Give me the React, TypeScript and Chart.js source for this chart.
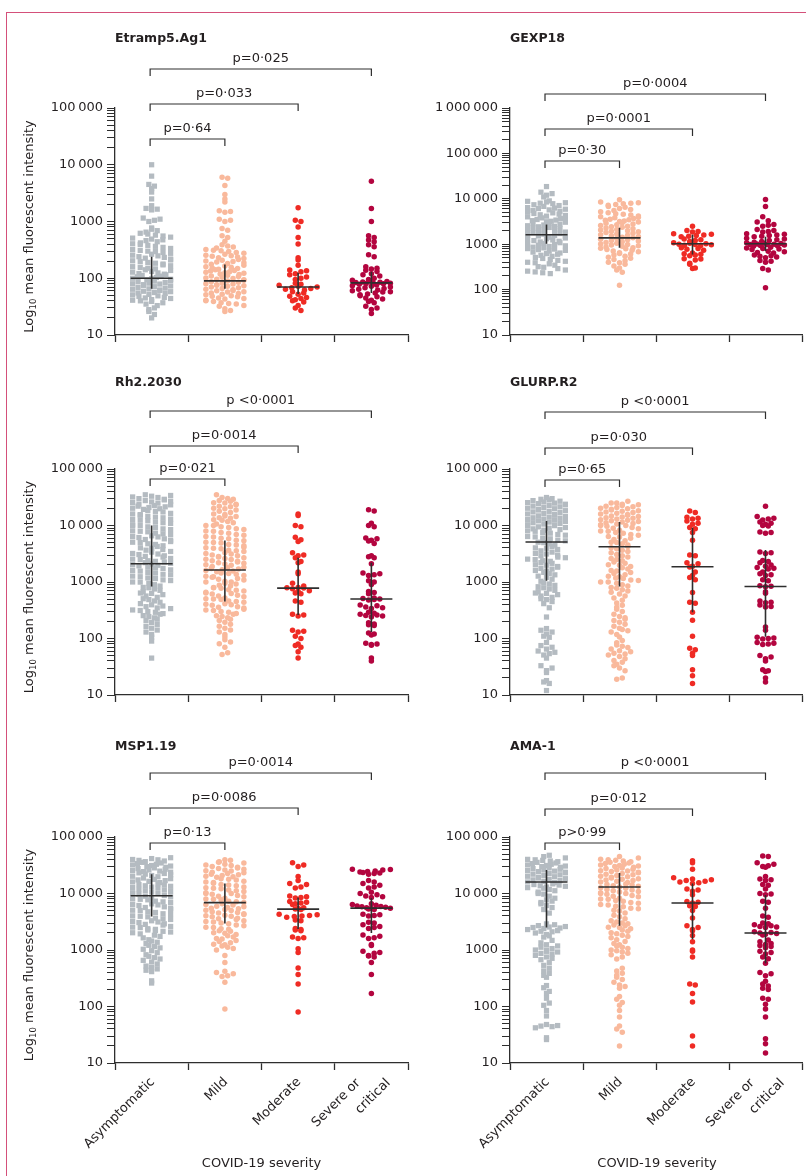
import React, { useEffect, useRef } from 'react';
import { Chart, registerables } from 'chart.js';

Chart.register(...registerables);

// ---------------- DATA ----------------
const CATEGORIES = ['Asymptomatic', 'Mild', 'Moderate', 'Severe or critical'];
const CATEGORY_LINES = [['Asymptomatic'], ['Mild'], ['Moderate'], ['Severe or', 'critical']];
const X_TITLE = 'COVID-19 severity';
const TITLES = ['Etramp5.Ag1', 'GEXP18', 'Rh2.2030', 'GLURP.R2', 'MSP1.19', 'AMA-1'];
const P_VALUES = [
  ['p=0·64', 'p=0·033', 'p=0·025'],
  ['p=0·30', 'p=0·0001', 'p=0·0004'],
  ['p=0·021', 'p=0·0014', 'p <0·0001'],
  ['p=0·65', 'p=0·030', 'p <0·0001'],
  ['p=0·13', 'p=0·0086', 'p=0·0014'],
  ['p>0·99', 'p=0·012', 'p <0·0001'],
];
const Y_MIN = 10;
const Y_MAX = [100000, 1000000, 100000, 100000, 100000, 100000];
const MEDIANS = [[100, 90, 70, 83], [1620, 1380, 1020, 1020], [2100, 1630, 780, 500], [5100, 4200, 1860, 830], [9100, 6900, 5300, 5500], [16000, 13000, 6800, 2000]];
const Q1S = [[65, 65, 53, 55], [1020, 830, 590, 710], [830, 450, 260, 130], [1050, 830, 290, 107], [3900, 2950, 2350, 2000], [2500, 2700, 1550, 580]];
const Q3S = [[240, 175, 125, 130], [2700, 2300, 1620, 1450], [10000, 5400, 2700, 2200], [12000, 11500, 9100, 3700], [22000, 15000, 8500, 8300], [26000, 23000, 15000, 9400]];

const ETRAMP_ASYM = [10000, 6300, 4500, 4200, 3800, 3300, 2500, 1900, 1700, 1650, 1600, 1150, 1100, 1050, 1000,
  650, 690, 730, 770, 510, 530, 555, 575, 600, 620, 405, 420, 440, 460, 475, 490,
  320, 335, 350, 365, 380, 395, 255, 265, 275, 285, 295, 300, 310, 203, 210, 218, 226, 233, 240, 248,
  160, 166, 172, 178, 184, 190, 196, 128, 132, 137, 141, 146, 150, 155, 100, 103, 106, 109, 112, 115, 118, 121, 124,
  80, 82, 84, 87, 89, 91, 94, 96, 98, 64, 65, 67, 69, 71, 73, 75, 77, 79, 51, 52, 54, 55, 56, 58, 59, 61, 62,
  40, 41, 42, 44, 45, 46, 48, 49, 33, 35, 37, 39, 26, 28, 30, 20, 23];
const ETRAMP_MILD = [6000, 5800, 4300, 3000, 2500, 2200, 1550, 1500, 1450, 1100, 1050, 1000, 750, 700, 560, 520, 450,
  320, 340, 355, 370, 390, 255, 265, 275, 285, 295, 305, 312, 202, 208, 215, 222, 229, 236, 243, 249,
  160, 165, 170, 176, 182, 187, 193, 198, 127, 130, 134, 137, 141, 144, 148, 152, 156,
  101, 104, 107, 110, 113, 116, 119, 122, 125, 80, 82, 85, 87, 89, 92, 94, 96, 99,
  64, 66, 68, 70, 72, 74, 75, 77, 79, 51, 52, 54, 55, 57, 58, 60, 61, 63,
  40, 41, 43, 44, 45, 47, 48, 49, 32, 33, 35, 36, 37, 39, 26, 27, 29];
const ETRAMP_MOD = [1750, 1050, 1000, 800, 520, 400, 230, 210, 170, 140, 135, 130, 120, 115, 105, 100, 95, 82, 78, 75, 72, 70, 68, 66, 64, 62, 58, 55, 52, 48, 46, 44, 42, 40, 38, 33, 30, 27];
const ETRAMP_SEV = [5100, 1700, 1000, 560, 520, 470, 440, 390, 360, 260, 240, 160, 150, 145, 138, 132, 120, 115, 110, 100, 95, 92, 90, 88, 86, 85, 84, 83, 82, 81, 80, 78, 76, 74, 72, 70, 68, 66, 64, 62, 60, 58, 57, 55, 53, 51, 49, 47, 45, 43, 41, 39, 37, 32, 30, 28, 24];

const GEXP_ASYM = [18600, 14000, 13000, 12000, 11000, 9000, 8800, 8500, 8200, 8000, 6400, 6800, 7100, 7400, 7800,
  5100, 5300, 5500, 5700, 5900, 6100, 6250, 4000, 4150, 4300, 4450, 4600, 4750, 4900,
  3200, 3300, 3400, 3500, 3650, 3800, 3900, 2550, 2650, 2750, 2850, 2950, 3050, 3120,
  2020, 2100, 2180, 2260, 2340, 2420, 2480, 1600, 1660, 1720, 1790, 1850, 1910, 1970,
  1270, 1320, 1370, 1420, 1470, 1520, 1560, 1000, 1040, 1080, 1120, 1160, 1200, 1240,
  800, 830, 860, 890, 920, 950, 980, 640, 670, 700, 730, 760, 780, 510, 540, 570, 600, 620,
  400, 420, 440, 460, 485, 320, 345, 370, 390, 255, 270, 290, 310, 225, 235, 245];
const GEXP_MILD = [9500, 8500, 8200, 8000, 7800, 7500, 7200, 6800, 6500, 5200, 5500, 5800, 6100,
  4000, 4200, 4400, 4550, 4700, 4900, 3250, 3350, 3450, 3550, 3700, 3820, 3940,
  2580, 2680, 2780, 2880, 2980, 3080, 3150, 2050, 2120, 2200, 2280, 2360, 2430, 2500,
  1620, 1680, 1740, 1800, 1870, 1930, 1990, 1280, 1330, 1380, 1430, 1480, 1530, 1575,
  1010, 1050, 1090, 1130, 1170, 1210, 1250, 810, 840, 870, 900, 930, 960, 990,
  650, 680, 710, 740, 765, 790, 515, 545, 575, 605, 625, 400, 430, 460, 490, 330, 360, 390, 270, 300, 240, 125];
const GEXP_MOD = [2500, 2000, 1900, 1850, 1700, 1650, 1600, 1550, 1500, 1450, 1300, 1250, 1200, 1150, 1080, 1050, 1020, 1000, 990, 970, 950, 920, 830, 800, 770, 740, 640, 620, 600, 580, 560, 480, 470, 450, 380, 360, 300, 290];
const GEXP_SEV = [9600, 6800, 4000, 3300, 3100, 2700, 2600, 2500, 2100, 2000, 1900, 1850, 1700, 1650, 1600, 1550, 1500, 1450, 1350, 1300, 1250, 1200, 1150, 1100, 1080, 1050, 1030, 1010, 1000, 990, 980, 960, 940, 920, 900, 860, 820, 800, 780, 760, 700, 680, 660, 640, 580, 560, 540, 520, 500, 440, 420, 400, 290, 270, 110];

const RH2_ASYM = [32000, 33000, 34000, 35000, 25400, 26100, 26900, 27600, 28400, 29100, 29900, 31300,
  20200, 20800, 21400, 22000, 22600, 23200, 23800, 24900, 16000, 16400, 17400, 17800, 18300, 19300, 19800,
  12700, 13000, 13700, 14100, 14400, 15200, 15600, 10000, 10300, 10900, 11200, 11500, 12100, 12400,
  8030, 8480, 8720, 9210, 9470, 9950, 6380, 6560, 6930, 7120, 7320, 7730, 7900,
  5060, 5200, 5500, 5650, 5810, 6130, 6280, 4020, 4260, 4380, 4620, 4750, 4980,
  3200, 3380, 3470, 3660, 3760, 3950, 2540, 2610, 2760, 2840, 2910, 3060, 3130,
  2020, 2080, 2140, 2200, 2260, 2320, 2380, 2490, 1600, 1640, 1740, 1780, 1830, 1930, 1980,
  1270, 1340, 1370, 1440, 1480, 1560, 1000, 1060, 1090, 1150, 1180, 1240,
  803, 848, 896, 947, 995, 638, 674, 712, 752, 790, 506, 535, 565, 597, 628, 414, 438, 462, 488,
  320, 338, 347, 366, 376, 395, 254, 269, 276, 291, 299, 313, 208, 220, 232, 244, 164, 178, 193,
  130, 141, 152, 106, 118, 90, 45];
const RH2_MILD = [35000, 25400, 26900, 27600, 29100, 29900, 31300, 20200, 21400, 22000, 23200, 23800, 24900,
  16000, 16900, 17800, 18800, 19800, 12700, 13400, 13700, 14400, 14800, 15600, 10000, 10600, 11200, 11800, 12400,
  8030, 8480, 8720, 9210, 9470, 9950, 6380, 6740, 6930, 7320, 7520, 7900, 5060, 5350, 5500, 5810, 5970, 6280,
  4020, 4140, 4380, 4500, 4620, 4880, 4980, 3200, 3290, 3470, 3560, 3660, 3860, 3950,
  2540, 2610, 2690, 2760, 2840, 2910, 2990, 3130, 2020, 2080, 2140, 2200, 2260, 2320, 2380, 2490,
  1600, 1640, 1690, 1740, 1780, 1830, 1880, 1980, 1270, 1300, 1370, 1410, 1440, 1520, 1560,
  1000, 1030, 1090, 1120, 1150, 1210, 1240, 803, 848, 872, 921, 947, 995, 638, 656, 693, 712, 732, 773, 790,
  506, 520, 550, 565, 581, 613, 628, 402, 414, 438, 450, 462, 488, 498, 320, 329, 347, 356, 366, 386, 395,
  254, 269, 276, 291, 299, 313, 208, 220, 232, 244, 164, 178, 193, 130, 141, 152, 106, 118, 81, 87, 95, 70, 52, 56];
const RH2_MOD = [16000, 15000, 10000, 9500, 6200, 5600, 5200, 3300, 3000, 2900, 2700, 2300, 2200, 1500, 1400, 950, 850, 800, 790, 780, 760, 700, 680, 640, 620, 460, 440, 270, 260, 250, 140, 135, 130, 110, 100, 80, 75, 70, 58, 45];
const RH2_SEV = [19000, 18000, 11000, 10000, 9500, 6000, 5800, 5500, 5300, 4800, 2900, 2800, 2700, 2100, 1450, 1400, 1350, 1300, 1050, 1000, 900, 680, 650, 620, 520, 510, 500, 490, 480, 390, 380, 360, 350, 340, 290, 280, 270, 260, 255, 250, 240, 190, 180, 175, 170, 125, 120, 115, 82, 80, 78, 76, 45, 40];

const GLURP_ASYM = [25400, 26100, 26900, 27600, 28400, 29100, 29900, 31300,
  20200, 20800, 21400, 22000, 22600, 23200, 23800, 24400, 24900, 16000, 16400, 16900, 17400, 17800, 18300, 18800, 19300, 19800,
  12700, 13000, 13400, 13700, 14100, 14400, 14800, 15200, 15600, 10000, 10300, 10600, 10900, 11200, 11500, 11800, 12100, 12400,
  8030, 8250, 8480, 8720, 8960, 9210, 9470, 9950, 6380, 6740, 6930, 7320, 7520, 7900, 5060, 5350, 5500, 5810, 5970, 6280,
  4020, 4260, 4500, 4750, 4980, 3200, 3380, 3560, 3760, 3950, 2540, 2690, 2760, 2910, 2990, 3130,
  2020, 2140, 2200, 2320, 2380, 2490, 1600, 1690, 1740, 1830, 1880, 1980, 1270, 1340, 1410, 1480, 1560,
  1030, 1120, 1210, 825, 872, 921, 973, 638, 674, 712, 752, 790, 506, 535, 565, 597, 628, 414, 450, 488,
  350, 240, 150, 140, 130, 120, 110, 105, 85, 75, 70, 65, 60, 57, 54, 51, 45, 33, 30, 27, 25, 18, 17, 16, 12];
const GLURP_MILD = [25000, 27000, 20200, 20800, 21400, 22000, 22600, 23200, 23800, 24900,
  16000, 16400, 16900, 17400, 17800, 18300, 18800, 19300, 19800, 12700, 13000, 13400, 13700, 14100, 14400, 14800, 15200, 15600,
  10000, 10300, 10600, 10900, 11200, 11500, 11800, 12100, 12400, 8030, 8250, 8720, 8960, 9210, 9730, 9950,
  6380, 6740, 6930, 7320, 7520, 7900, 5060, 5350, 5650, 5970, 6280, 4020, 4260, 4500, 4750, 4980,
  3290, 3470, 3660, 3860, 2610, 2760, 2910, 3060, 2020, 2140, 2260, 2380, 2490, 1600, 1690, 1780, 1880, 1980,
  1270, 1340, 1410, 1480, 1560, 1000, 1060, 1090, 1150, 1180, 1240, 803, 848, 896, 947, 995,
  656, 693, 732, 773, 520, 565, 613, 426, 474, 329, 356, 386, 269, 299, 208, 220, 232, 244, 164, 178, 193,
  130, 137, 144, 152, 106, 118, 84, 92, 65, 69, 73, 77, 51, 53, 55, 58, 61, 41, 44, 48, 33, 35, 38, 27, 30, 19, 20];
const GLURP_MOD = [18000, 17000, 14000, 13500, 13000, 12000, 11000, 10500, 9200, 8800, 7500, 5500, 3000, 2900, 2200, 2100, 1900, 1850, 1500, 1300, 1200, 1100, 650, 440, 420, 290, 210, 110, 67, 63, 55, 50, 28, 22, 16];
const GLURP_SEV = [22000, 14500, 13500, 13000, 12500, 11500, 11000, 10500, 10000, 9800, 7700, 7500, 7300, 3400, 3300, 3200, 2400, 2300, 2200, 2000, 1900, 1800, 1750, 1700, 1500, 1400, 1350, 1300, 1100, 1050, 860, 840, 820, 670, 630, 460, 440, 430, 390, 370, 360, 160, 140, 105, 102, 100, 98, 85, 82, 80, 78, 50, 47, 44, 40, 28, 27, 26, 20, 17];

const MSP_ASYM = [40000, 41500, 43000, 32000, 32900, 33800, 34700, 35600, 36600, 37600, 38600, 39500,
  25400, 26100, 26900, 27600, 28400, 29100, 29900, 30600, 31300, 20200, 20800, 21400, 22000, 22600, 23200, 23800, 24400, 24900,
  16000, 16400, 16900, 17400, 17800, 18300, 18800, 19800, 12700, 13000, 13400, 13700, 14100, 14400, 14800, 15600,
  10000, 10300, 10600, 10900, 11200, 11500, 11800, 12400, 8030, 8250, 8720, 8960, 9210, 9730, 9950,
  6380, 6560, 6930, 7120, 7320, 7730, 7900, 5060, 5200, 5500, 5650, 5810, 6130, 6280, 4020, 4260, 4380, 4620, 4750, 4980,
  3200, 3290, 3470, 3560, 3660, 3860, 3950, 2540, 2610, 2760, 2840, 2910, 3060, 3130, 2020, 2080, 2140, 2200, 2260, 2320, 2380, 2490,
  1640, 1740, 1830, 1930, 1300, 1370, 1440, 1520, 1030, 1090, 1150, 1210, 825, 896, 973, 656, 693, 732, 773,
  520, 565, 613, 414, 438, 462, 488, 260, 285];
const MSP_MILD = [32000, 32900, 34700, 35600, 36600, 38600, 39500, 25400, 26100, 26900, 27600, 28400, 29100, 29900, 31300,
  20200, 20800, 21400, 22000, 22600, 23200, 23800, 24900, 16000, 16400, 17400, 17800, 18300, 19300, 19800,
  12700, 13000, 13700, 14100, 14400, 15200, 15600, 10000, 10300, 10900, 11200, 11500, 12100, 12400,
  8030, 8250, 8720, 8960, 9210, 9730, 9950, 6380, 6560, 6930, 7120, 7320, 7730, 7900,
  5060, 5200, 5350, 5500, 5650, 5810, 5970, 6280, 4020, 4140, 4260, 4380, 4500, 4620, 4750, 4980,
  3200, 3290, 3470, 3560, 3660, 3860, 3950, 2540, 2690, 2760, 2910, 2990, 3130, 2020, 2140, 2200, 2320, 2380, 2490,
  1600, 1690, 1780, 1880, 1980, 1270, 1340, 1410, 1480, 1560, 1000, 1060, 1120, 1180, 1240,
  800, 600, 420, 400, 380, 350, 340, 270, 90];
const MSP_MOD = [35000, 32000, 30000, 20000, 17000, 15000, 14500, 13000, 12500, 9000, 8800, 8500, 8300, 7200, 7000, 6800, 6600, 6400, 5600, 5400, 5300, 5200, 4300, 4200, 4100, 4000, 3900, 3800, 3400, 3300, 2400, 2300, 2250, 2200, 1700, 1650, 1600, 1050, 900, 480, 370, 250, 80];
const MSP_SEV = [27000, 26500, 26000, 25000, 24500, 24000, 23500, 23000, 22500, 22000, 17000, 16000, 15000, 14000, 13000, 12500, 10500, 10000, 9500, 9000, 8800, 8500, 6600, 6400, 6200, 6000, 5900, 5800, 5700, 5600, 5500, 5400, 5300, 5200, 4300, 4200, 4100, 4000, 3100, 3000, 2800, 2600, 2500, 2400, 1850, 1750, 1650, 1600, 1250, 1200, 950, 900, 880, 800, 780, 750, 600, 370, 170];

const AMA_ASYM = [40200, 42600, 45000, 47500, 32000, 32900, 33800, 34700, 35600, 36600, 37600, 38600, 39500,
  25400, 26100, 26900, 27600, 28400, 29100, 29900, 30600, 31300, 20200, 20800, 21400, 22000, 22600, 23200, 23800, 24400, 24900,
  16000, 16400, 16900, 17400, 17800, 18300, 18800, 19300, 19800, 12700, 13000, 13400, 13700, 14100, 14400, 14800, 15600,
  10000, 10600, 11200, 11800, 12400, 8250, 8960, 9730, 6560, 6930, 7320, 7730, 5200, 5650, 6130, 4500,
  2300, 2400, 2450, 2500, 2550, 2600, 2700, 2800, 2900, 2000, 2100, 2150, 2200, 1690, 1780, 1880, 1340, 1480,
  1000, 1060, 1120, 1180, 1240, 803, 848, 872, 921, 947, 995, 674, 712, 752, 535, 597, 426, 474, 329, 356, 386,
  215, 235, 170, 185, 140, 105, 115, 85, 68, 42, 44, 45, 46, 48, 26, 28];
const AMA_MILD = [40200, 42600, 45000, 32000, 32900, 33800, 34700, 35600, 36600, 37600, 38600, 39500,
  25400, 26100, 26900, 27600, 28400, 29100, 29900, 30600, 31300, 20200, 20800, 21400, 22000, 22600, 23200, 23800, 24400, 24900,
  16000, 16400, 16900, 17400, 17800, 18300, 18800, 19300, 19800, 12700, 13000, 13400, 13700, 14100, 14400, 14800, 15600,
  10000, 10300, 10600, 10900, 11200, 11500, 11800, 12400, 8030, 8250, 8720, 8960, 9210, 9730, 9950,
  6380, 6740, 6930, 7320, 7520, 7900, 5060, 5350, 5500, 5810, 5970, 6280, 4140, 4500, 4880, 3290, 3560, 3860,
  2540, 2690, 2760, 2910, 2990, 3130, 2020, 2140, 2260, 2380, 2490, 1640, 1740, 1830, 1930, 1300, 1410, 1520,
  1000, 1060, 1120, 1180, 1240, 825, 872, 921, 973, 693, 752, 426, 474, 329, 356, 386, 269, 299,
  210, 225, 240, 135, 150, 105, 118, 85, 65, 40, 45, 35, 20];
const AMA_MOD = [38000, 35000, 27000, 19000, 18000, 17500, 17000, 16500, 16000, 15500, 15000, 12000, 11500, 11000, 9500, 7200, 7000, 6800, 6100, 5900, 5000, 3700, 2700, 2500, 2300, 2200, 1800, 1400, 1000, 950, 750, 250, 240, 170, 120, 30, 20];
const AMA_SEV = [46000, 45000, 35000, 33000, 31000, 30000, 29000, 20000, 18000, 17500, 17000, 14500, 14000, 12000, 10000, 9800, 9500, 7300, 7000, 5500, 4000, 3800, 3000, 2900, 2800, 2700, 2600, 2550, 2500, 2100, 2050, 2000, 1950, 1900, 1850, 1500, 1400, 1300, 1250, 1200, 1150, 1100, 950, 900, 850, 750, 700, 580, 400, 380, 350, 280, 250, 230, 210, 200, 140, 135, 110, 90, 65, 27, 22, 15];

const GROUPS = [
  [ETRAMP_ASYM, ETRAMP_MILD, ETRAMP_MOD, ETRAMP_SEV],
  [GEXP_ASYM, GEXP_MILD, GEXP_MOD, GEXP_SEV],
  [RH2_ASYM, RH2_MILD, RH2_MOD, RH2_SEV],
  [GLURP_ASYM, GLURP_MILD, GLURP_MOD, GLURP_SEV],
  [MSP_ASYM, MSP_MILD, MSP_MOD, MSP_SEV],
  [AMA_ASYM, AMA_MILD, AMA_MOD, AMA_SEV],
];

// ---------------- STYLE / LAYOUT ----------------
const GROUP_COLORS = ['#b4bbc1', '#f9b99c', '#ef2b24', '#b3053f'];
const FONT = '"DejaVu Sans", "Noto Sans", sans-serif';
const TEXT_COLOR = '#231f20';
const LINE_COLOR = '#2e2e2e';
const BORDER_COLOR = '#d4507a';

// page coordinates
const LAYOUT = [
  { box: { left: 10, top: 14, width: 402, height: 340 }, area: { l: 115, r: 408, t: 108, b: 335 }, titleY: 41.5, bracketY: [139, 104, 69], yTitle: true, xLabels: false },
  { box: { left: 412, top: 14, width: 394, height: 340 }, area: { l: 510, r: 804, t: 108, b: 335 }, titleY: 41.5, bracketY: [161, 129, 94], yTitle: false, xLabels: false },
  { box: { left: 10, top: 360, width: 402, height: 350 }, area: { l: 115, r: 408, t: 469, b: 695 }, titleY: 386, bracketY: [479, 446, 411], yTitle: true, xLabels: false },
  { box: { left: 412, top: 360, width: 394, height: 350 }, area: { l: 510, r: 804, t: 469, b: 695 }, titleY: 386, bracketY: [480, 448, 412], yTitle: false, xLabels: false },
  { box: { left: 10, top: 716, width: 402, height: 460 }, area: { l: 115, r: 408, t: 837, b: 1063 }, titleY: 750, bracketY: [843, 808, 773], yTitle: true, xLabels: true },
  { box: { left: 412, top: 716, width: 394, height: 460 }, area: { l: 510, r: 804, t: 837, b: 1063 }, titleY: 750, bracketY: [843, 809, 773], yTitle: false, xLabels: true },
];
// offsets (dx, dy) of the end of each rotated label line, relative to category centre / axis
const X_LABEL_OFFSETS = [[[1, 17]], [[1, 17]], [[1, 17]], [[-13, 18], [17, 18]]];
const X_AXIS_HEIGHT = 8;

function gcd(a: number, b: number): number { return b ? gcd(b, a % b) : a; }

// beeswarm-like layout of the x offsets (rows of marker height, centred on the category)
function swarm(values: number[], group: number, pxPerDecade: number, pxPerCat: number) {
  const ROW = 5.2, STEP = 5.6, SPAN = 38;
  const rows = new Map<number, number[]>();
  values.forEach((v) => {
    const r = Math.round((Math.log10(v) * pxPerDecade) / ROW);
    if (!rows.has(r)) rows.set(r, []);
    rows.get(r)!.push(v);
  });
  const pts: { x: number; y: number }[] = [];
  rows.forEach((vals) => {
    const n = vals.length;
    const step = n <= 1 ? 0 : n >= 6 ? SPAN / (n - 1) : STEP;
    const stride = [3, 5, 7, 2, 1].find((p) => p < n && gcd(p, n) === 1) || 1;
    vals.forEach((v, k) => {
      const slot = (k * stride) % n;
      const off = (slot - (n - 1) / 2) * step;
      pts.push({ x: group + off / pxPerCat, y: v });
    });
  });
  return pts;
}

function formatTick(v: number): string {
  const s = String(Math.round(v));
  if (v < 10000) return s;
  return s.replace(/\B(?=(\d{3})+(?!\d))/g, '\u2009');
}
function isDecade(v: number) {
  const l = Math.log10(v);
  return Math.abs(l - Math.round(l)) < 1e-9;
}

function Panel({ index }: { index: number }) {
  const ref = useRef<HTMLCanvasElement>(null);
  const L = LAYOUT[index];
  useEffect(() => {
    const canvas = ref.current!;
    const { box, area } = L;
    const yMax = Y_MAX[index];
    const pxPerDecade = (area.b - area.t) / Math.log10(yMax / Y_MIN);
    const pxPerCat = (area.r - area.l) / 4;
    const datasets = GROUPS[index].map((vals, g) => ({
      label: CATEGORIES[g],
      data: swarm(vals, g, pxPerDecade, pxPerCat),
      pointStyle: g === 0 ? 'rect' : 'circle',
      pointRadius: g === 0 ? 3.7 : 2.75,
      backgroundColor: GROUP_COLORS[g],
      borderWidth: 0,
    }));
    const logTicks: { value: number; major: boolean }[] = [];
    for (let e = 1; Math.pow(10, e) <= yMax; e++) {
      for (let m = 1; m <= 9; m++) {
        const v = m * Math.pow(10, e);
        if (v > yMax) break;
        logTicks.push({ value: v, major: m === 1 });
      }
    }
    const toX = (px: number) => px - box.left;
    const toY = (py: number) => py - box.top;

    const overlay = {
      id: 'overlay',
      afterDatasetsDraw(chart: any) {
        const ctx = chart.ctx;
        const xs = chart.scales.x, ys = chart.scales.y;
        ctx.save();
        ctx.strokeStyle = LINE_COLOR;
        ctx.lineWidth = 1.6;
        for (let g = 0; g < 4; g++) {
          const cx = xs.getPixelForValue(g);
          const ym = ys.getPixelForValue(MEDIANS[index][g]);
          ctx.beginPath();
          ctx.moveTo(cx - 21, ym);
          ctx.lineTo(cx + 21, ym);
          ctx.moveTo(cx, ys.getPixelForValue(Q1S[index][g]));
          ctx.lineTo(cx, ys.getPixelForValue(Q3S[index][g]));
          ctx.stroke();
        }
        ctx.restore();
      },
      afterDraw(chart: any) {
        const ctx = chart.ctx;
        const xs = chart.scales.x;
        ctx.save();
        ctx.fillStyle = TEXT_COLOR;
        ctx.font = `bold 12.5px ${FONT}`;
        ctx.textAlign = 'left';
        ctx.textBaseline = 'alphabetic';
        ctx.fillText(TITLES[index], toX(area.l), toY(L.titleY));
        ctx.strokeStyle = LINE_COLOR;
        ctx.lineWidth = 1.2;
        ctx.font = `13px ${FONT}`;
        ctx.textAlign = 'center';
        for (let k = 0; k < 3; k++) {
          const y = toY(L.bracketY[k]);
          const x0 = xs.getPixelForValue(0) - 1.5;
          const x1 = xs.getPixelForValue(k + 1);
          ctx.beginPath();
          ctx.moveTo(x0, y + 7);
          ctx.lineTo(x0, y);
          ctx.lineTo(x1, y);
          ctx.lineTo(x1, y + 7);
          ctx.stroke();
          ctx.fillText(P_VALUES[index][k], (x0 + x1) / 2, y - 7.5);
        }
        if (L.yTitle) {
          ctx.save();
          ctx.translate(toX(28), toY((area.t + area.b) / 2 + 5));
          ctx.rotate(-Math.PI / 2);
          ctx.textAlign = 'left';
          const main = `13px ${FONT}`, sub = `8.5px ${FONT}`;
          ctx.font = main; const w1 = ctx.measureText('Log').width;
          const w3 = ctx.measureText(' mean fluorescent intensity').width;
          ctx.font = sub; const w2 = ctx.measureText('10').width;
          let x = -(w1 + w2 + w3) / 2;
          ctx.font = main; ctx.fillText('Log', x, 4.5); x += w1;
          ctx.font = sub; ctx.fillText('10', x, 7.5); x += w2;
          ctx.font = main; ctx.fillText(' mean fluorescent intensity', x, 4.5);
          ctx.restore();
        }
        if (L.xLabels) {
          ctx.font = `13px ${FONT}`;
          const axisY = toY(area.b);
          for (let g = 0; g < 4; g++) {
            const cx = xs.getPixelForValue(g);
            CATEGORY_LINES[g].forEach((line, li) => {
              const [dx, dy] = X_LABEL_OFFSETS[g][li];
              ctx.save();
              ctx.translate(cx + dx, axisY + dy);
              ctx.rotate(-Math.PI / 4);
              ctx.textAlign = 'right';
              ctx.textBaseline = 'middle';
              ctx.fillText(line, 0, 0);
              ctx.restore();
            });
          }
          ctx.textAlign = 'center';
          ctx.textBaseline = 'alphabetic';
          ctx.fillText(X_TITLE, (toX(area.l) + toX(area.r)) / 2, toY(1167));
        }
        ctx.restore();
      },
    };

    const chart = new Chart(canvas, {
      type: 'scatter',
      data: { datasets: datasets as any },
      options: {
        responsive: false,
        animation: false,
        events: [],
        layout: {
          padding: {
            left: 0,
            top: area.t - box.top,
            right: box.left + box.width - area.r,
            bottom: box.top + box.height - area.b - X_AXIS_HEIGHT,
          },
        },
        plugins: { legend: { display: false }, tooltip: { enabled: false }, title: { display: false } },
        scales: {
          x: {
            type: 'linear',
            min: -0.5,
            max: 3.5,
            afterBuildTicks: (scale: any) => {
              scale.ticks = [-0.5, 0.5, 1.5, 2.5, 3.5].map((value) => ({ value }));
            },
            afterFit: (scale: any) => { scale.height = X_AXIS_HEIGHT; },
            ticks: { display: false },
            grid: { drawOnChartArea: false, drawTicks: true, tickLength: 7, tickColor: LINE_COLOR, tickWidth: 1.3 },
            border: { display: true, color: LINE_COLOR, width: 1.3 },
          },
          y: {
            type: 'logarithmic',
            min: Y_MIN,
            max: yMax,
            afterBuildTicks: (scale: any) => { scale.ticks = logTicks.map((t) => ({ ...t })); },
            afterFit: (scale: any) => { scale.width = area.l - box.left; },
            ticks: {
              autoSkip: false,
              padding: 4,
              color: TEXT_COLOR,
              font: { family: FONT, size: 13 },
              callback: (v: any) => (isDecade(Number(v)) ? formatTick(Number(v)) : ''),
            },
            grid: { drawOnChartArea: false, drawTicks: true, tickLength: 8, tickColor: LINE_COLOR, tickWidth: 1 },
            border: { display: true, color: LINE_COLOR, width: 1.3 },
          },
        },
      } as any,
      plugins: [overlay as any],
    });
    return () => chart.destroy();
  }, [index]);
  const { box } = L;
  return (
    <canvas
      ref={ref}
      width={box.width}
      height={box.height}
      style={{ position: 'absolute', left: box.left, top: box.top, width: box.width, height: box.height }}
    />
  );
}

export default function App() {
  return (
    <div style={{ position: 'absolute', left: 0, top: 0, width: 806, height: 1176, background: '#ffffff', overflow: 'hidden' }}>
      <div
        style={{
          position: 'absolute', left: 6, top: 12, width: 800, height: 1164, boxSizing: 'border-box',
          borderTop: `1.5px solid ${BORDER_COLOR}`, borderLeft: `1.5px solid ${BORDER_COLOR}`,
        }}
      />
      {LAYOUT.map((_, i) => (
        <Panel key={i} index={i} />
      ))}
    </div>
  );
}
